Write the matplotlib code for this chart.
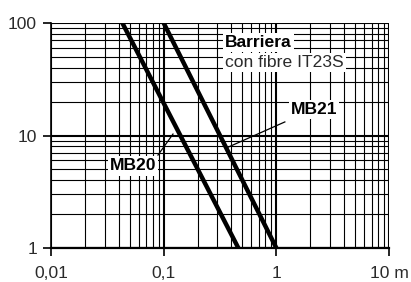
import numpy as np
import matplotlib.pyplot as plt
from matplotlib.ticker import LogLocator, FixedLocator

plt.rcParams['font.family'] = ['Liberation Sans', 'DejaVu Sans']

# distance (m) vs value
mb20_x = [0.043, 0.46]
mb20_y = [100, 1]
mb21_x = [0.1, 1.0]
mb21_y = [100, 1]

xticks = [0.01, 0.1, 1, 10]
xlabels = ["0,01", "0,1", "1", "10 m"]
yticks = [1, 10, 100]
ylabels = ["1", "10", "100"]

FS = 12.6

fig = plt.figure(figsize=(4.11, 2.82), dpi=100)
ax = fig.add_axes([51/411, 1-248/282, 338/411, 225/282])
ax.set_xscale("log")
ax.set_yscale("log")
ax.set_xlim(0.01, 10)
ax.set_ylim(1, 100)

ax.xaxis.set_major_locator(FixedLocator(xticks))
ax.yaxis.set_major_locator(FixedLocator(yticks))
ax.set_xticklabels(xlabels)
ax.set_yticklabels(ylabels)
ax.xaxis.set_minor_locator(LogLocator(base=10, subs=np.arange(2, 10)))
ax.yaxis.set_minor_locator(LogLocator(base=10, subs=np.arange(2, 10)))
ax.tick_params(which="major", length=6, width=1.2, color="black",
               labelsize=FS, labelcolor="#2a2a2a")
ax.tick_params(axis="x", which="major", pad=7)
ax.tick_params(axis="y", which="major", pad=4)
ax.tick_params(which="minor", length=0)

ax.grid(which="major", color="black", lw=1.5)
ax.grid(which="minor", color="black", lw=0.8)
for s in ["top", "right"]:
    ax.spines[s].set_visible(False)
ax.spines["left"].set_linewidth(1.2)
ax.spines["bottom"].set_linewidth(1.6)

ax.plot(mb20_x, mb20_y, color="black", lw=3.2, solid_capstyle="butt", zorder=3)
ax.plot(mb21_x, mb21_y, color="black", lw=3.2, solid_capstyle="butt", zorder=3)

box = dict(facecolor="white", edgecolor="none", pad=1.5)
ax.text(0.35, 61, "Barriera", fontsize=FS, fontweight="bold", va="baseline",
        ha="left", bbox=box, zorder=4)
ax.text(0.35, 40.6, "con fibre IT23S", fontsize=FS, color="#2a2a2a",
        va="baseline", ha="left", bbox=box, zorder=4)

ax.plot([0.359, 1.19], [7.74, 13.2], color="black", lw=0.9, zorder=3)
ax.text(2.16, 16.9, "MB21", fontsize=FS, fontweight="bold", ha="center",
        va="center", bbox=box, zorder=4)

ax.plot([0.089, 0.121], [6.7, 10.3], color="black", lw=0.9, zorder=3)
ax.text(0.0534, 5.36, "MB20", fontsize=FS, fontweight="bold", ha="center",
        va="center", bbox=box, zorder=4)

fig.savefig("out.png", dpi=100)
